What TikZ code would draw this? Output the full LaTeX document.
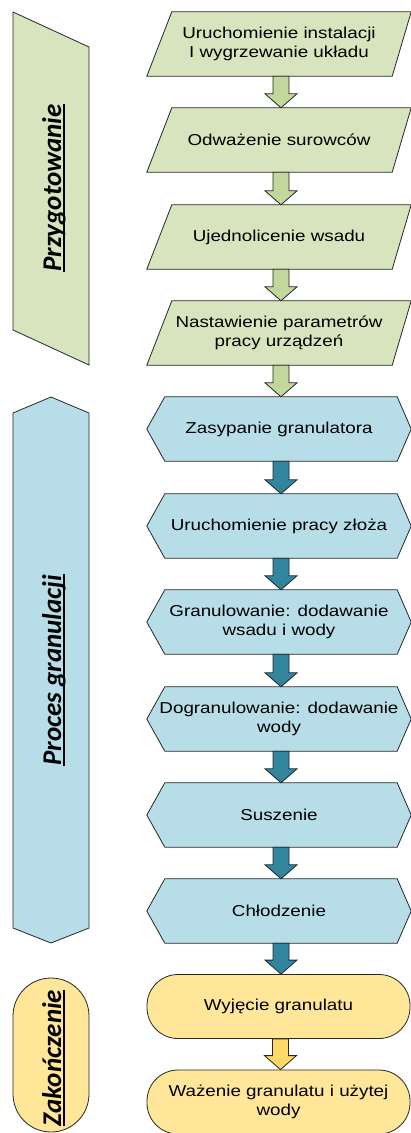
\documentclass[tikz,border=0pt]{standalone}
\usepackage{fontspec}
\setmainfont{Liberation Sans}
\newfontfamily\boxfont{Liberation Sans}[FakeStretch=1.19]
\newfontfamily\sidefont{Carlito}
\usetikzlibrary{calc,backgrounds}

\definecolor{prepfill}{HTML}{D7E4BD}
\definecolor{preparrow}{HTML}{C3D69B}
\definecolor{granfill}{HTML}{B7DEE8}
\definecolor{granarrow}{HTML}{31859C}
\definecolor{endfill}{HTML}{FFE699}
\definecolor{endarrow}{HTML}{FFD966}
\definecolor{edge}{HTML}{262626}

\tikzset{
  outline/.style={draw=edge, line width=0.8pt, line join=miter},
  boxtext/.style={minimum width=264pt, minimum height=64pt, inner sep=0pt,
    align=center, text=black, font=\boxfont\fontsize{15.8}{19.5}\selectfont},
  endbox/.style={boxtext, outline, fill=endfill, rounded corners=31pt, minimum width=263pt},
  sidelabel/.style={rotate=90, anchor=base, inner sep=0pt, text=black,
    font=\sidefont\bfseries\itshape\fontsize{27}{30}\selectfont},
  underl/.style={draw=black, line width=1.4pt},
  preparrowstyle/.style={outline, fill=preparrow},
  granarrowstyle/.style={outline, fill=granarrow},
  endarrowstyle/.style={outline, fill=endarrow},
}

% parallelogram behind a preparation step
\newcommand\prepshape[1]{%
  \draw[outline, fill=prepfill] (#1.south west) -- ([xshift=25pt]#1.north west)
    -- (#1.north east) -- ([xshift=-19pt]#1.south east) -- cycle;}
% hexagon behind a granulation step
\newcommand\granshape[1]{%
  \draw[outline, fill=granfill] (#1.west) -- ([xshift=18pt]#1.north west)
    -- ([xshift=-14pt]#1.north east) -- (#1.east) -- ([xshift=-14pt]#1.south east)
    -- ([xshift=18pt]#1.south west) -- cycle;}
% block arrow from the bottom of one step to the top of the next
\newcommand\flowarrow[3]{%
  \draw[#1] let \p1=([xshift=2pt]#2.south), \p2=([xshift=2pt]#3.north) in
    (\x1-8pt,\y1) -- (\x1+8pt,\y1) -- (\x1+8pt,\y2+14pt) -- (\x1+16pt,\y2+14pt)
    -- (\x1,\y2) -- (\x1-16pt,\y2+14pt) -- (\x1-8pt,\y2+14pt) -- cycle;}

\begin{document}
\begin{tikzpicture}[x=1pt, y=-1pt]
\useasboundingbox (0,0) rectangle (411,1133);

% phase bands on the left
\draw[outline, fill=prepfill] (13,12) -- (89,47) -- (89,365) -- (13,330) -- cycle;
\draw[outline, fill=granfill] (13,413) -- (51,397) -- (89,413) -- (89,928)
  -- (51,943) -- (13,928) -- cycle;
\draw[outline, fill=endfill, rounded corners=38pt] (13,978) rectangle (89,1132);

\node[sidelabel] (lprep) at (61,188) {Przygotowanie};
\node[sidelabel] (lgran) at (61,670) {Proces granulacji};
\node[sidelabel] (lend)  at (61,1058) {Zakończenie};
\draw[underl] ([xshift=3pt]lprep.base west) -- ([xshift=3pt]lprep.base east);
\draw[underl] ([xshift=3pt]lgran.base west) -- ([xshift=3pt]lgran.base east);
\draw[underl] ([xshift=3pt]lend.base west) -- ([xshift=3pt]lend.base east);

% preparation steps
\node[boxtext] (p1) at (279,44)  {Uruchomienie instalacji\\I wygrzewanie układu};
\node[boxtext] (p2) at (279,140) {Odważenie surowców};
\node[boxtext] (p3) at (279,237) {Ujednolicenie wsadu};
\node[boxtext] (p4) at (279,333) {Nastawienie parametrów\\pracy urządzeń};

% granulation steps
\node[boxtext] (g1) at (279,429) {Zasypanie granulatora};
\node[boxtext] (g2) at (279,526) {Uruchomienie pracy złoża};
\node[boxtext] (g3) at (279,622) {Granulowanie: dodawanie\\wsadu i wody};
\node[boxtext] (g4) at (279,719) {Dogranulowanie: dodawanie\\wody};
\node[boxtext] (g5) at (279,815) {Suszenie};
\node[boxtext] (g6) at (279,911) {Chłodzenie};

% final steps
\node[endbox] (e1) at (278.5,1006.5) {Wyjęcie granulatu};
\node[endbox] (e2) at (278.5,1102) {Ważenie granulatu i użytej\\wody};

\begin{scope}[on background layer]
  \prepshape{p1}\prepshape{p2}\prepshape{p3}\prepshape{p4}
  \granshape{g1}\granshape{g2}\granshape{g3}\granshape{g4}\granshape{g5}\granshape{g6}
\end{scope}

% connectors
\flowarrow{preparrowstyle}{p1}{p2}
\flowarrow{preparrowstyle}{p2}{p3}
\flowarrow{preparrowstyle}{p3}{p4}
\flowarrow{preparrowstyle}{p4}{g1}
\flowarrow{granarrowstyle}{g1}{g2}
\flowarrow{granarrowstyle}{g2}{g3}
\flowarrow{granarrowstyle}{g3}{g4}
\flowarrow{granarrowstyle}{g4}{g5}
\flowarrow{granarrowstyle}{g5}{g6}
\flowarrow{granarrowstyle}{g6}{e1}
\flowarrow{endarrowstyle}{e1}{e2}
\end{tikzpicture}
\end{document}
